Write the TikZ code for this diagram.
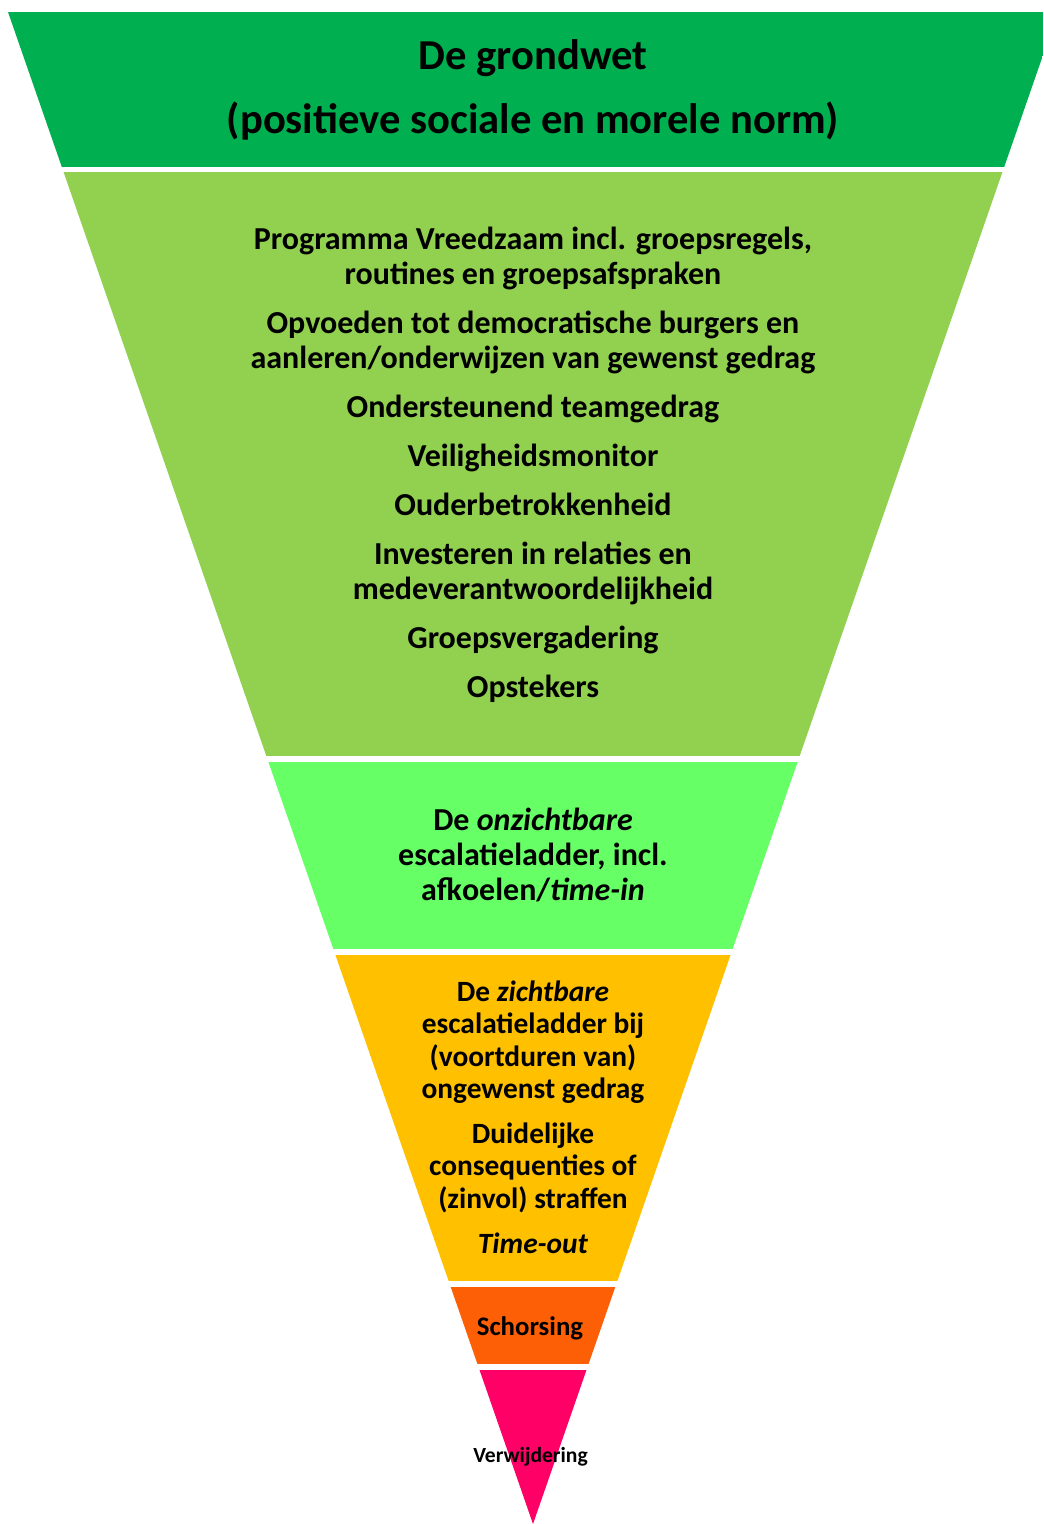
\documentclass[tikz,border=0pt]{standalone}
\usepackage{fontspec}
\setmainfont{Carlito}

\definecolor{grondwet}{HTML}{00B050}
\definecolor{basis}{HTML}{92D050}
\definecolor{onzichtbaar}{HTML}{66FF66}
\definecolor{zichtbaar}{HTML}{FFC000}
\definecolor{schorsing}{HTML}{FC5F05}
\definecolor{verwijdering}{HTML}{FF0066}

\tikzset{
  bandtext/.style={align=center, inner sep=0pt, font=\fontsize{16}{17.5}\selectfont\bfseries},
}

\begin{document}
\begin{tikzpicture}[x=0.5pt,y=-0.5pt]
  \useasboundingbox (0,0) rectangle (1043,1524);

  % the funnel, cut into bands
  \begin{scope}
    \clip (8,12) -- (1058,12) -- (533,1524) -- cycle;
    \fill [grondwet] (0,12) rectangle (1043,167);
    \fill [basis] (0,172) rectangle (1043,756);
    \fill [onzichtbaar] (0,762) rectangle (1043,949);
    \fill [zichtbaar] (0,955) rectangle (1043,1281);
    \fill [schorsing] (0,1287) rectangle (1043,1364);
    \fill [verwijdering] (0,1370) rectangle (1043,1530);
  \end{scope}

  \node [bandtext, font=\fontsize{21.3}{32}\selectfont\bfseries] (top) at (533,90)
    { De grondwet \\ (positieve sociale en morele norm) };

  \node [bandtext] (basis) at (533,465)
    { Programma Vreedzaam incl. groepsregels, \\ routines en groepsafspraken \\[7pt]
      Opvoeden tot democratische burgers en \\ aanleren/onderwijzen van gewenst gedrag \\[7pt]
      Ondersteunend teamgedrag \\[7pt]
      Veiligheidsmonitor \\[7pt]
      Ouderbetrokkenheid \\[7pt]
      Investeren in relaties en \\ medeverantwoordelijkheid \\[7pt]
      Groepsvergadering \\[7pt]
      Opstekers };

  \node [bandtext] (onzicht) at (533,855)
    { De \textit{onzichtbare} \\ escalatieladder, incl. \\ afkoelen/\textit{time-in} };

  \node [bandtext, font=\fontsize{14.7}{16.2}\selectfont\bfseries] (zicht) at (533,1117)
    { De \textit{zichtbare} \\ escalatieladder bij \\ (voortduren van) \\ ongewenst gedrag \\[6.3pt]
      Duidelijke \\ consequenties of \\ (zinvol) straffen \\[6.3pt]
      \textit{Time-out} };

  \node [bandtext, font=\fontsize{13.4}{15}\selectfont\bfseries] (schors) at (533,1328) { Schorsing };
  \node [bandtext, font=\fontsize{10.8}{12}\selectfont\bfseries] (verwijder) at (533,1457) { Verwijdering };
\end{tikzpicture}
\end{document}
